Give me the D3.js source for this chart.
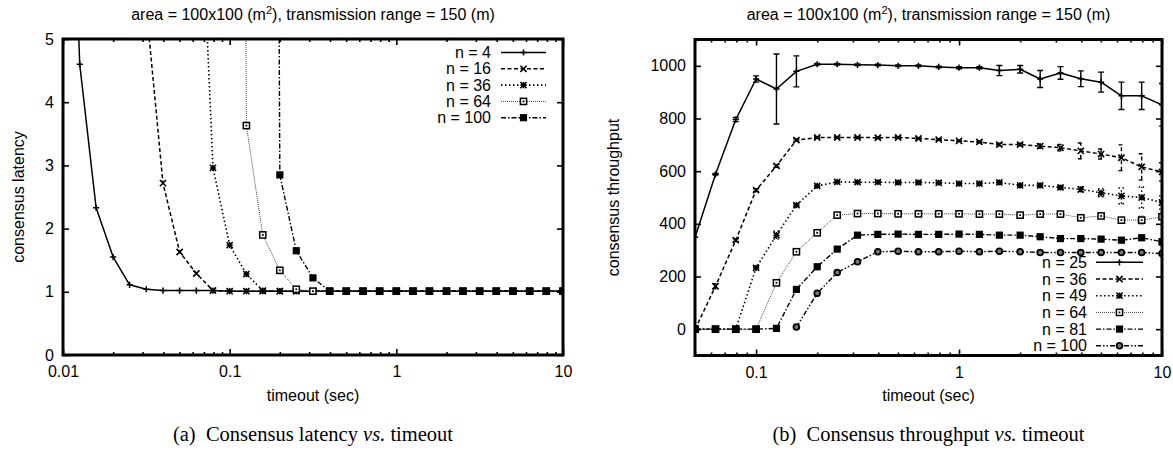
<!DOCTYPE html>
<html><head><meta charset="utf-8">
<script src="https://cdn.jsdelivr.net/npm/d3@7"></script>
<style>body{margin:0;background:#fff} svg{display:block}</style>
</head><body>
<svg id="c" width="1173" height="453"></svg>
<script>
// ---------- data: (a) consensus latency ----------
const latTimeouts = [0.01,0.0126,0.0158,0.02,0.0251,0.0316,0.0398,0.0501,0.0631,0.0794,
  0.1,0.126,0.158,0.2,0.251,0.316,0.398,0.501,0.631,0.794,
  1,1.26,1.58,2,2.51,3.16,3.98,5.01,6.31,7.94,10];
const latN4   = [12,4.6,2.33,1.55,1.11,1.04,1.02,1.02,1.02,1.02, 1.01,1.01,1.01,1.01,1.01,1.01,1.01,1.01,1.01,1.01, 1.01,1.01,1.01,1.01,1.01,1.01,1.01,1.01,1.01,1.01,1.01];
const latN16  = [null,null,null,null,12,5.5,2.72,1.63,1.29,1.02, 1.01,1.01,1.01,1.01,1.01,1.01,1.01,1.01,1.01,1.01, 1.01,1.01,1.01,1.01,1.01,1.01,1.01,1.01,1.01,1.01,1.01];
const latN36  = [null,null,null,null,null,null,null,null,9,2.96, 1.74,1.28,1.02,1.01,1.01,1.01,1.01,1.01,1.01,1.01, 1.01,1.01,1.01,1.01,1.01,1.01,1.01,1.01,1.01,1.01,1.01];
const latN64  = [null,null,null,null,null,null,null,null,null,null, 60,3.63,1.9,1.34,1.04,1.01,1.01,1.01,1.01,1.01, 1.01,1.01,1.01,1.01,1.01,1.01,1.01,1.01,1.01,1.01,1.01];
const latN100 = [null,null,null,null,null,null,null,null,null,null, null,null,60,2.85,1.65,1.22,1.01,1.01,1.01,1.01, 1.01,1.01,1.01,1.01,1.01,1.01,1.01,1.01,1.01,1.01,1.01];
const latLabels = ["n = 4","n = 16","n = 36","n = 64","n = 100"];
const latXTicks = [0.01,0.1,1,10];
const latYTicks = [0,1,2,3,4,5];

// ---------- data: (b) consensus throughput ----------
const tpTimeouts = [0.0501,0.0631,0.0794,0.1,0.126,0.158,0.2,0.251,0.316,0.398,0.501,0.631,0.794,1,1.26,1.58,2,2.51,3.16,3.98,5.01,6.31,7.94,10];
const tpN25  = [350,588,796,950,912,979,1006,1006,1004,1003,1000,1000,996,993,993,982,987,950,973,951,938,886,886,852];
const tpN25e = [0,3,8,12,133,59,3,3,3,3,3,3,3,4,4,19,14,32,24,30,38,52,52,81];
const tpN36  = [0,163,338,528,620,718,728,728,728,727,728,724,720,715,711,701,701,695,689,677,665,651,616,597];
const tpN36e = [0,10,5,5,5,4,3,3,3,3,3,3,3,3,3,5,5,8,12,30,19,49,50,35];
const tpN49  = [0,0,0,233,357,471,544,559,558,558,557,557,556,553,553,557,546,546,538,531,518,506,500,481];
const tpN49e = [0,0,0,5,15,5,3,3,3,3,3,3,3,3,3,3,3,5,5,10,15,30,40,25];
const tpN64  = [0,0,0,0,176,294,366,433,439,439,438,438,438,438,437,437,433,437,437,423,430,414,414,427];
const tpN64e = [0,0,0,0,3,3,3,3,3,3,3,3,3,3,3,3,3,3,3,3,5,8,15,10];
const tpN81  = [0,0,0,0,3,151,237,304,357,360,361,360,360,361,360,357,357,351,344,344,342,338,347,332];
const tpN81e = [0,0,0,0,0,3,3,3,3,3,3,3,3,3,3,3,3,3,3,3,3,6,10,12];
const tpN100 = [null,null,null,null,null,8,136,215,256,294,296,294,294,296,294,296,294,291,291,291,291,291,291,287];
const tpN100e = [0,0,0,0,0,0,0,0,0,3,3,3,3,3,3,3,3,3,3,3,3,3,3,3];
const tpLabels = ["n = 25","n = 36","n = 49","n = 64","n = 81","n = 100"];
const tpXTicks = [0.1,1,10];
const tpYTicks = [0,200,400,600,800,1000];

const titleText = "area = 100x100 (m", titleSup = "2", titleRest = "), transmission range = 150 (m)";

// ---------- drawing ----------
const svg = d3.select("#c");
const SANS = "'Liberation Sans', Arial, Helvetica, sans-serif";
const SERIF = "'Liberation Serif', 'Times New Roman', serif";

const styles = [
  {dash:null, w:1.5, col:"#000", mk:"plus"},
  {dash:"4,2.5", w:1.5, col:"#000", mk:"cross"},
  {dash:"1.5,2.5", w:1.6, col:"#000", mk:"star"},
  {dash:"1,1", w:1, col:"#444", mk:"box"},
  {dash:"5,2,1.5,2", w:1.4, col:"#000", mk:"fbox"},
  {dash:"5,2,1.5,2,1.5,2", w:1.4, col:"#000", mk:"circ"}
];

function marker(g, type, x, y){
  const s = 3.1;
  if(type==="plus"){
    g.append("path").attr("d",`M${x-s},${y}H${x+s}M${x},${y-s}V${y+s}`).attr("stroke","#000").attr("stroke-width",1.5).attr("fill","none");
  } else if(type==="cross"){
    g.append("path").attr("d",`M${x-s},${y-s}L${x+s},${y+s}M${x-s},${y+s}L${x+s},${y-s}`).attr("stroke","#000").attr("stroke-width",1.6).attr("fill","none");
  } else if(type==="star"){
    g.append("path").attr("d",`M${x-s},${y}H${x+s}M${x},${y-s}V${y+s}M${x-s},${y-s}L${x+s},${y+s}M${x-s},${y+s}L${x+s},${y-s}`).attr("stroke","#000").attr("stroke-width",1.5).attr("fill","none");
  } else if(type==="box"){
    g.append("rect").attr("x",x-s).attr("y",y-s).attr("width",2*s).attr("height",2*s).attr("fill","#fff").attr("stroke","#000").attr("stroke-width",1.5);
    g.append("rect").attr("x",x-0.9).attr("y",y-0.9).attr("width",1.8).attr("height",1.8).attr("fill","#000");
  } else if(type==="fbox"){
    g.append("rect").attr("x",x-s-0.5).attr("y",y-s-0.5).attr("width",2*s+1).attr("height",2*s+1).attr("fill","#000");
  } else if(type==="circ"){
    g.append("circle").attr("cx",x).attr("cy",y).attr("r",s-0.2).attr("fill","#777").attr("stroke","#000").attr("stroke-width",1.8);
  }
}

function minorTicks(lo, hi){
  const out = [];
  for(let e=-3;e<=1;e++){
    for(let m=2;m<10;m++){
      const v = m*Math.pow(10,e);
      if(v>=lo*0.999 && v<=hi*1.001) out.push(v);
    }
  }
  return out;
}

function drawChart(cfg){
  const {x, y, xTicks, yTicks, series, labels, xFmt, errs, id} = cfg;
  const [x0,x1] = x.range(), [y0,y1] = y.range();
  const g = svg.append("g");

  svg.append("clipPath").attr("id",id).append("rect")
    .attr("x",x0).attr("y",y1).attr("width",x1-x0).attr("height",y0-y1);

  const fontAttrs = sel => sel.selectAll("text").attr("font-family",SANS).attr("font-size","16px").attr("fill","#000");
  const clean = sel => { sel.select(".domain").remove(); sel.selectAll("line").attr("stroke","#000").attr("stroke-width",1.6); };

  const minors = minorTicks(x.domain()[0], x.domain()[1]);
  g.append("g").attr("transform",`translate(0,${y0})`)
    .call(d3.axisBottom(x).tickValues(xTicks).tickFormat(xFmt).tickSize(-6).tickPadding(11))
    .call(clean).call(fontAttrs);
  g.append("g").attr("transform",`translate(0,${y0})`)
    .call(d3.axisBottom(x).tickValues(minors).tickFormat("").tickSize(-3)).call(clean);
  g.append("g").attr("transform",`translate(0,${y1})`)
    .call(d3.axisTop(x).tickValues(xTicks).tickFormat("").tickSize(-6)).call(clean);
  g.append("g").attr("transform",`translate(0,${y1})`)
    .call(d3.axisTop(x).tickValues(minors).tickFormat("").tickSize(-3)).call(clean);
  g.append("g").attr("transform",`translate(${x0},0)`)
    .call(d3.axisLeft(y).tickValues(yTicks).tickFormat(d3.format("d")).tickSize(-6).tickPadding(9))
    .call(clean).call(fontAttrs);
  g.append("g").attr("transform",`translate(${x1},0)`)
    .call(d3.axisRight(y).tickValues(yTicks).tickFormat("").tickSize(-6)).call(clean);

  const dg = g.append("g").attr("clip-path",`url(#${id})`);
  const ts = cfg.timeouts;
  series.forEach((vals, si) => {
    const st = styles[si];
    const ev = errs ? errs[si] : null;
    const pts = ts.map((t,i)=>({t, v: vals[i], e: ev ? ev[i] : 0}));
    const line = d3.line().defined(d=>d.v!=null).x(d=>x(d.t)).y(d=>y(d.v));
    dg.append("path").datum(pts).attr("d",line).attr("fill","none")
      .attr("stroke",st.col).attr("stroke-width",st.w)
      .attr("stroke-dasharray",st.dash).attr("stroke-linejoin","round");
    if(ev){
      pts.forEach(d=>{
        if(d.v==null || !d.e) return;
        const px = x(d.t), ya = y(d.v - d.e), yb = y(d.v + d.e);
        dg.append("path").attr("d",`M${px},${ya}V${yb}M${px-3},${ya}H${px+3}M${px-3},${yb}H${px+3}`)
          .attr("stroke",st.col).attr("stroke-width",1.4).attr("fill","none")
          .attr("stroke-dasharray", (d.e>6 && st.dash) ? st.dash : null);
      });
    }
    pts.forEach(d=>{
      if(d.v==null) return;
      if(d.v > y.domain()[1] || d.v < y.domain()[0]) return;
      marker(dg, st.mk, x(d.t), y(d.v));
    });
  });

  g.append("rect").attr("x",x0).attr("y",y1).attr("width",x1-x0).attr("height",y0-y1)
    .attr("fill","none").attr("stroke","#000").attr("stroke-width",3);

  const lg = g.append("g");
  labels.forEach((lab,i)=>{
    const st = styles[i];
    const ly = cfg.legY + i*cfg.legStep;
    lg.append("text").attr("x",cfg.legTextX).attr("y",ly).attr("dy","0.35em")
      .attr("text-anchor","end").attr("font-family",SANS).attr("font-size","16px").text(lab);
    lg.append("line").attr("x1",cfg.legLine[0]).attr("x2",cfg.legLine[1]).attr("y1",ly).attr("y2",ly)
      .attr("stroke",st.col).attr("stroke-width",st.w).attr("stroke-dasharray",st.dash);
    marker(lg, st.mk, (cfg.legLine[0]+cfg.legLine[1])/2, ly);
  });

  const cx = (x0+x1)/2;
  const tt = g.append("text").attr("x",cx).attr("y",20).attr("text-anchor","middle")
    .attr("font-family",SANS).attr("font-size","16px");
  tt.append("tspan").text(titleText);
  tt.append("tspan").attr("dy",-6).attr("font-size","11px").text(titleSup);
  tt.append("tspan").attr("dy",6).text(titleRest);

  g.append("text").attr("x",cx).attr("y",401).attr("text-anchor","middle")
    .attr("font-family",SANS).attr("font-size","16px").text("timeout (sec)");
  g.append("text").attr("transform",`translate(${cfg.yLabX},${(y0+y1)/2}) rotate(-90)`)
    .attr("text-anchor","middle").attr("font-family",SANS).attr("font-size","16px").text(cfg.yLabel);

  const cap = g.append("text").attr("x",cx).attr("y",441).attr("text-anchor","middle")
    .attr("font-family",SERIF).attr("font-size","20.5px");
  cap.append("tspan").text(cfg.capA);
  cap.append("tspan").attr("font-style","italic").text("vs.");
  cap.append("tspan").text(" timeout");
}

const fmt = d => (d>=1 ? d3.format("d")(d) : String(d));

drawChart({
  id:"clipA", timeouts: latTimeouts,
  x: d3.scaleLog().domain([0.01,10]).range([63,563]),
  y: d3.scaleLinear().domain([0,5]).range([355,39]),
  xTicks: latXTicks, yTicks: latYTicks, xFmt: fmt,
  series: [latN4, latN16, latN36, latN64, latN100],
  labels: latLabels,
  legTextX: 491, legY: 52.5, legStep: 16.3, legLine:[501,546],
  yLabX: 24, yLabel: "consensus latency",
  capA: "(a)\u2002Consensus latency "
});

drawChart({
  id:"clipB", timeouts: tpTimeouts,
  x: d3.scaleLog().domain([0.05,10]).range([695,1162]),
  y: d3.scaleLinear().domain([-100,1100]).range([355.5,39.5]),
  xTicks: tpXTicks, yTicks: tpYTicks, xFmt: fmt,
  series: [tpN25, tpN36, tpN49, tpN64, tpN81, tpN100],
  errs: [tpN25e, tpN36e, tpN49e, tpN64e, tpN81e, tpN100e],
  labels: tpLabels,
  legTextX: 1087, legY: 262.3, legStep: 16.7, legLine:[1096,1143],
  yLabX: 619, yLabel: "consensus throughput",
  capA: "(b)\u2002Consensus throughput "
});
</script>
</body></html>
